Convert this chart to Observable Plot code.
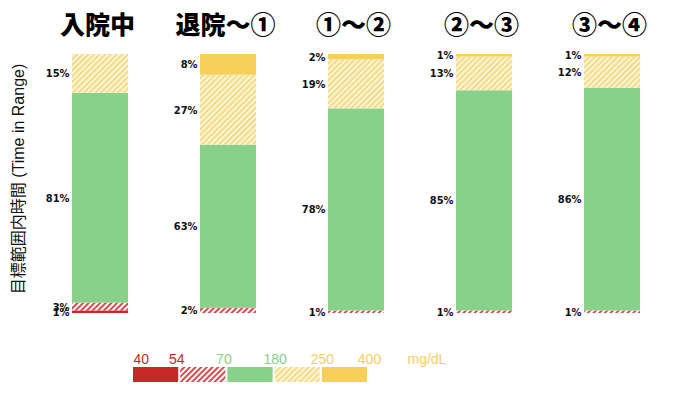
<!DOCTYPE html>
<html><head><meta charset="utf-8">
<script src="https://cdn.jsdelivr.net/npm/d3@7"></script>
<script src="https://cdn.jsdelivr.net/npm/@observablehq/plot@0.6"></script>
<style>
body{margin:0;background:#fff;}
#chart svg{display:block;}
</style></head><body><div id="chart"></div>
<script>
// ---- data ----
const periods = ["入院中", "退院～①", "①～②", "②～③", "③～④"];
const segments = ["<54", "54-70", "70-180", "180-250", ">250"];
const below54 = [1, 0, 0, 0, 0];
const from54to70 = [3, 2, 1, 1, 1];
const inRange = [81, 63, 78, 85, 86];
const from180to250 = [15, 27, 19, 13, 12];
const above250 = [0, 8, 2, 1, 1];
const thresholds = ["40", "54", "70", "180", "250", "400"];
const unit = "mg/dL";
const yTitle = "目標範囲内時間 (Time in Range)";

// ---- styles ----
const RED = "#C62828", GREEN = "#88D18A", YELLOW = "#F8CF5B";
const segFills = [RED, "url(#hatchRed)", GREEN, "url(#hatchYellow)", YELLOW];
const thresholdColors = [RED, RED, GREEN, GREEN, YELLOW, YELLOW];

// ---- long table ----
const series = [below54, from54to70, inRange, from180to250, above250];
const rows = [];
periods.forEach((p, i) => {
  let acc = 0;
  series.forEach((s, k) => {
    const v = s[i];
    rows.push({period: p, seg: segments[k], value: v, y1: acc, y2: acc + v, mid: acc + v / 2});
    acc += v;
  });
});

const pctFont = "'Liberation Sans Narrow', 'DejaVu Sans Condensed', sans-serif";
const lgFont = "'Liberation Sans', Arial, sans-serif";

const main = Plot.plot({
  width: 675, height: 335,
  marginTop: 54, marginBottom: 22, marginLeft: 18, marginRight: 0,
  x: {domain: periods, range: [71, 640], paddingInner: 0.564, paddingOuter: 0, axis: null},
  y: {domain: [0, 100], axis: null},
  color: {type: "ordinal", domain: segments, range: segFills},
  marks: [
    Plot.barY(rows, {x: "period", y1: "y1", y2: "y2", fill: "seg"}),
    Plot.text(rows.filter(d => d.value > 0), {
      x: "period", y: "mid", text: d => d.value + "%", dx: -31, textAnchor: "end",
      fontSize: 11, fontWeight: 700, fontFamily: pctFont, fill: "#111"
    }),
    Plot.text(periods, {
      x: d => d, text: d => d, frameAnchor: "top", dx: -3, dy: -29, lineAnchor: "middle",
      fontSize: 25, fontWeight: 900, fontFamily: "'Noto Sans CJK JP', sans-serif", fill: "#000"
    }),
    Plot.text([yTitle], {
      text: d => d, frameAnchor: "left", rotate: -90, dy: -5, textAnchor: "middle",
      fontSize: 16, fontFamily: "'Liberation Sans', 'Noto Sans CJK JP', sans-serif", fill: "#111"
    })
  ]
});

d3.select(main).insert("defs", ":first-child").html(`
  <pattern id="hatchRed" patternUnits="userSpaceOnUse" width="4" height="4" patternTransform="rotate(-45)">
    <rect width="4" height="4" fill="#ffffff"/>
    <rect width="4" height="2" fill="#DC4A4E"/>
  </pattern>
  <pattern id="hatchYellow" patternUnits="userSpaceOnUse" width="4" height="4" patternTransform="rotate(-45)">
    <rect width="4" height="4" fill="#FDF5D8"/>
    <rect width="4" height="1.8" fill="#F5D97E"/>
  </pattern>`);

const legend = Plot.plot({
  width: 675, height: 60,
  marginTop: 32, marginBottom: 13, marginLeft: 0, marginRight: 0,
  x: {domain: [0, 5], range: [133, 369], axis: null},
  color: {type: "identity"},
  marks: [
    Plot.rect(segments, {x1: (d, i) => i, x2: (d, i) => i + 1, insetRight: 2, fill: (d, i) => segFills[i]}),
    Plot.text(thresholds.slice(0, 1), {
      x: 0, text: d => d, frameAnchor: "top", dy: -13, textAnchor: "start",
      fontSize: 14, fontFamily: lgFont, fill: thresholdColors[0]
    }),
    Plot.text(thresholds.slice(1, 3), {
      x: (d, i) => i + 1, text: d => d, frameAnchor: "top", dy: -13, dx: -4,
      fontSize: 14, fontFamily: lgFont, fill: (d, i) => thresholdColors[i + 1]
    }),
    Plot.text(thresholds.slice(3), {
      x: (d, i) => i + 3, text: d => d, frameAnchor: "top", dy: -13,
      fontSize: 14, fontFamily: lgFont, fill: (d, i) => thresholdColors[i + 3]
    }),
    Plot.text([unit], {
      x: 5, text: d => d, frameAnchor: "top", dy: -13, dx: 38, textAnchor: "start",
      fontSize: 14, fontFamily: lgFont, fill: YELLOW
    })
  ]
});

document.getElementById("chart").append(main, legend);
</script>
</body></html>
